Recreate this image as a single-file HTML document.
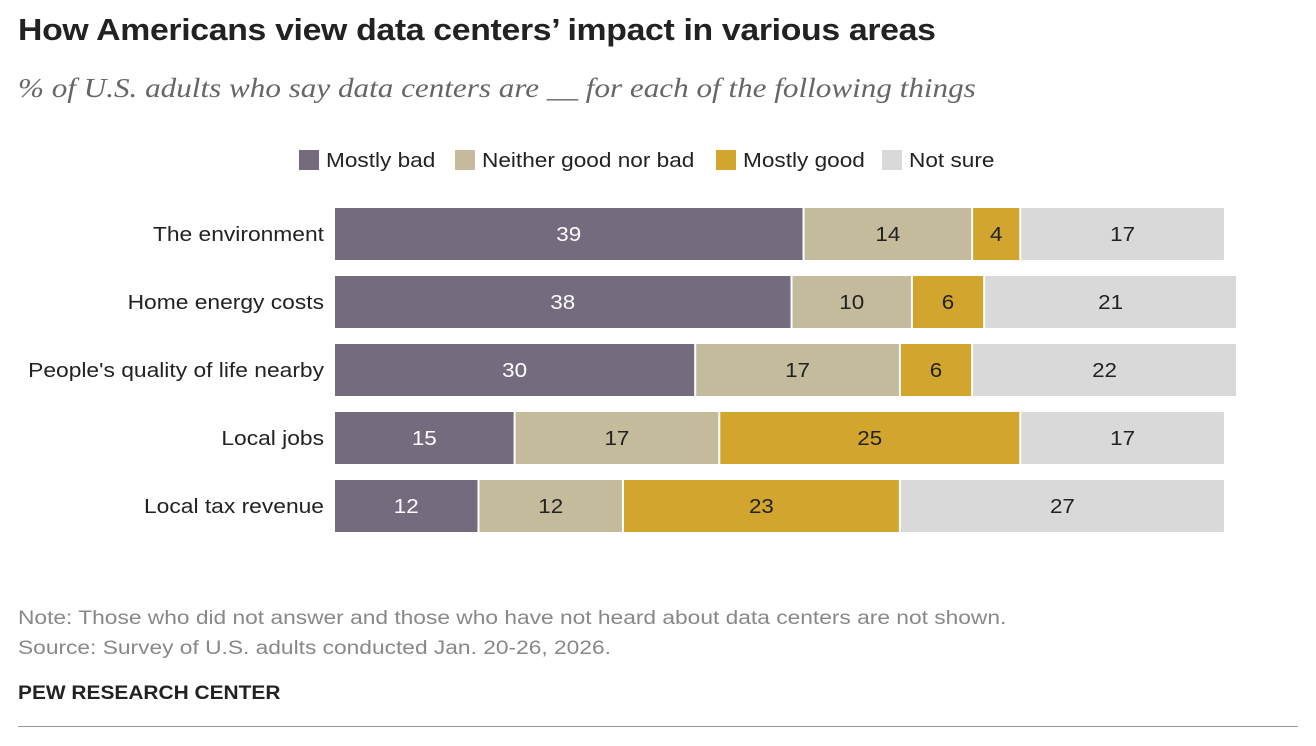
<!DOCTYPE html>
<html><head><meta charset="utf-8"><style>
body{margin:0;width:1316px;height:746px;background:#fff;font-family:"Liberation Sans",sans-serif;overflow:hidden;position:relative}
.t{position:absolute;white-space:nowrap;transform-origin:0 0}
</style></head><body>
<div class="t" style="left:18px;top:12px;font-size:31px;font-weight:bold;color:#222;letter-spacing:-0.3px;transform:scaleX(1.09)">How Americans view data centers’ impact in various areas</div>
<div class="t" style="left:18px;top:73px;font-size:27px;font-style:italic;font-family:'Liberation Serif',serif;color:#666;transform:scaleX(1.153)">% of U.S. adults who say data centers are __ for each of the following things</div>
<svg id="chart" width="1316" height="746" style="position:absolute;left:0;top:0"></svg>
<div class="t" style="left:18px;top:608px;font-size:19px;color:#888;transform:scaleX(1.197)">Note: Those who did not answer and those who have not heard about data centers are not shown.</div>
<div class="t" style="left:18px;top:638px;font-size:19px;color:#888;transform:scaleX(1.197)">Source: Survey of U.S. adults conducted Jan. 20-26, 2026.</div>
<div class="t" style="left:18px;top:683px;font-size:19px;font-weight:bold;color:#222;transform:scaleX(1.10)">PEW RESEARCH CENTER</div>
<div style="position:absolute;left:18px;top:726px;width:1280px;height:1px;background:#999"></div>
<script>
const categories=["The environment","Home energy costs","People's quality of life nearby","Local jobs","Local tax revenue"];
const seriesNames=["Mostly bad","Neither good nor bad","Mostly good","Not sure"];
const mostlyBad=[39,38,30,15,12];
const neither=[14,10,17,17,12];
const mostlyGood=[4,6,6,25,23];
const notSure=[17,21,22,17,27];
const colors=["#756b7f","#c4bb9d","#d2a52f","#d9d9d9"];
const textColors=["#fff","#222","#222","#222"];
const NS="http://www.w3.org/2000/svg";
const svg=document.getElementById('chart');
const x0=335,scale=12.04,y0=208,pitch=68,bh=52;
const xs=v=>v*scale;
function mk(t,a){const e=document.createElementNS(NS,t);for(const k in a)e.setAttribute(k,a[k]);svg.appendChild(e);return e;}
function widen(t,f){const w=t.getComputedTextLength();t.setAttribute('textLength',w*f);t.setAttribute('lengthAdjust','spacingAndGlyphs');}
const series=[mostlyBad,neither,mostlyGood,notSure];
categories.forEach((c,i)=>{
  const y=y0+i*pitch;
  const lb=mk('text',{x:324,y:y+bh/2+7,'text-anchor':'end','font-size':20,fill:'#222'});
  lb.textContent=c;
  
  
  widen(lb,1.14);
  let acc=0;
  series.forEach((s,j)=>{
    const v=s[i];
    const r=mk('rect',{x:x0+xs(acc),y:y,width:Math.max(0,xs(v)-2),height:bh,fill:colors[j]});
    
    
    const tx=mk('text',{x:x0+xs(acc+v/2)-1,y:y+bh/2+7,'text-anchor':'middle','font-size':20,fill:textColors[j]});
    tx.textContent=v;
    
    
    widen(tx,1.12);
    acc+=v;
  });
});
const legX=[299,455,716,882];
seriesNames.forEach((n,j)=>{
  const r=mk('rect',{x:legX[j],y:150,width:20,height:20,fill:colors[j]});
  
  
  const t=mk('text',{x:legX[j]+27,y:167,'font-size':20,fill:'#222'});
  t.textContent=n;
  
  
  widen(t,1.13);
});
</script>
</body></html>
